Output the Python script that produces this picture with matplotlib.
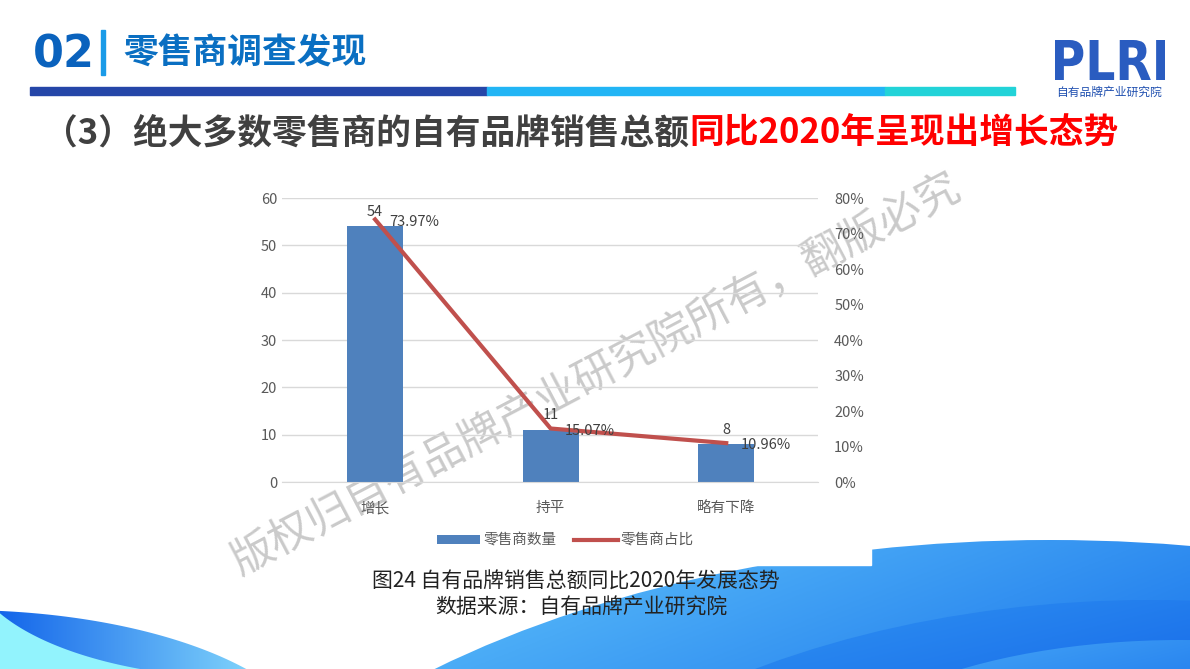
import numpy as np
import matplotlib.pyplot as plt
from matplotlib.patches import Ellipse, Rectangle, Polygon, PathPatch
from matplotlib.colors import LinearSegmentedColormap
from matplotlib.textpath import TextPath
from matplotlib.font_manager import FontProperties
from matplotlib.transforms import Affine2D
from matplotlib.ticker import FuncFormatter
plt.rcParams["font.family"] = ["Noto Sans CJK SC", "DejaVu Sans"]

# 数据
categories = ["增长", "持平", "略有下降"]
counts = [54, 11, 8]
shares = [0.7397, 0.1507, 0.1096]
share_labels = ["73.97%", "15.07%", "10.96%"]

fig = plt.figure(figsize=(11.9, 6.69), dpi=100)

# 背景层（像素坐标）
bg = fig.add_axes([0, 0, 1, 1])
bg.set_xlim(0, 1190)
bg.set_ylim(669, 0)
bg.axis("off")


def grad_fill(patch, c1, c2, extent, z, diag=True):
    patch.set_facecolor("none")
    patch.set_edgecolor("none")
    bg.add_patch(patch)
    n = 200
    gx = np.linspace(0, 1, n)
    gy = np.linspace(0, 1, n)
    arr = (gx[None, :] * 0.7 + gy[:, None] * 0.3) if diag else np.tile(gx, (n, 1))
    cmap = LinearSegmentedColormap.from_list("g", [c1, c2])
    im = bg.imshow(arr, extent=extent, cmap=cmap, aspect="auto", origin="upper", zorder=z)
    im.set_clip_path(patch)


# 底部右侧波浪
grad_fill(Ellipse((1050, 1040), 1836, 1000), "#5fc3fb", "#1d78ec", (430, 1190, 669, 540), 0.5)
grad_fill(Ellipse((1150, 1060), 1500, 920), "#3aa4f6", "#1a6fea", (440, 1190, 669, 590), 0.6)
grad_fill(Ellipse((1180, 800), 760, 320), "#4eb0f8", "#2a86f0", (840, 1190, 669, 630), 0.7)
bg.add_patch(Rectangle((700, 500), 171, 65, color="white", zorder=0.8))

# 底部左侧波浪
xs = np.linspace(0, 252, 80)
yA = 760 - 150 * np.sqrt(np.clip(1 - ((xs + 40) / 360) ** 2, 0, 1))
yC = 560 + 118.5 * np.sqrt(np.clip(1 - ((xs - 250) / 280) ** 2, 0, 1))
cyan_pts = [(0, 700)] + list(zip(xs, yC)) + [(252, 700)]
bg.add_patch(Polygon(cyan_pts, closed=True, color="#92f3fd", zorder=0.5))
cres = Polygon(list(zip(xs, yA)) + list(zip(xs[::-1], yC[::-1])), closed=True)
grad_fill(cres, "#1466ea", "#7fd3fb", (0, 252, 680, 605), 0.6, diag=False)

# 顶部标题
bg.text(33, 55, "02", fontsize=32, fontweight="bold", color="#0a62bd", va="center", family="DejaVu Sans")
bg.add_patch(Rectangle((101, 30), 4, 45, color="#1a9be8"))
bg.text(123, 53, "零售商调查发现", fontsize=25, fontweight="bold", color="#0a6fc2", va="center")
bg.add_patch(Rectangle((30, 87), 457, 8, color="#2546a8"))
bg.add_patch(Rectangle((487, 87), 398, 8, color="#22b5f5"))
bg.add_patch(Rectangle((885, 87), 130, 8, color="#22d3d8"))

tp = TextPath((0, 0), "PLRI", size=1, prop=FontProperties(family="DejaVu Sans", weight="bold"))
ext = tp.get_extents()
tr = Affine2D().translate(-ext.x0, -ext.y0).scale(110 / ext.width, -40 / ext.height).translate(1055, 80)
bg.add_patch(PathPatch(tr.transform_path(tp), facecolor="#2a5cc0", edgecolor="none"))
bg.text(1109, 92, "自有品牌产业研究院", fontsize=8.5, color="#2050b0", ha="center", va="center")

t1 = bg.text(43, 133, "（3）绝大多数零售商的自有品牌销售总额", fontsize=25, fontweight="black",
             color="#404040", va="center")
fig.canvas.draw()
x_end = bg.transData.inverted().transform((t1.get_window_extent().x1, 0))[0]
bg.text(x_end, 133, "同比2020年呈现出增长态势", fontsize=25, fontweight="black",
        color="#ff0000", va="center")

# 图表
ax = fig.add_axes([0.237, 0.2795, 0.45, 0.4245])
x = np.arange(len(categories))
ax.bar(x, counts, width=0.32, color="#4f81bd", zorder=2, label="零售商数量")
ax.set_ylim(0, 60)
ax.set_yticks(range(0, 61, 10))
ax.set_xlim(-0.53, 2.52)
ax.set_xticks(x)
ax.set_xticklabels(categories)
ax.grid(axis="y", color="#d9d9d9", linewidth=1, zorder=0)
for s in ["top", "right", "left"]:
    ax.spines[s].set_visible(False)
ax.spines["bottom"].set_color("#d9d9d9")
ax.tick_params(length=0, labelsize=10.5, labelcolor="#595959")
ax.tick_params(axis="x", pad=14)
ax.patch.set_alpha(0)
for xi, c in zip(x, counts):
    ax.text(xi, c + 1.6, str(c), ha="center", va="bottom", fontsize=10.5, color="#404040")

ax2 = ax.twinx()
ax2.plot(x, shares, color="#c0504d", linewidth=3, zorder=3, label="零售商占比")
ax2.set_ylim(0, 0.8)
ax2.set_yticks(np.arange(0, 0.81, 0.1))
ax2.yaxis.set_major_formatter(FuncFormatter(lambda v, p: f"{v*100:.0f}%"))
for s in ["top", "right", "left", "bottom"]:
    ax2.spines[s].set_visible(False)
ax2.tick_params(length=0, labelsize=10.5, labelcolor="#595959", pad=12)
for xi, s, lab in zip(x, shares, share_labels):
    ax2.text(xi + 0.08, s - 0.006, lab, ha="left", va="center", fontsize=10.5, color="#404040")

h1, l1 = ax.get_legend_handles_labels()
h2, l2 = ax2.get_legend_handles_labels()
fig.legend(h1 + h2, l1 + l2, loc="center", bbox_to_anchor=(0.475, 0.192), ncol=2,
           frameon=False, fontsize=10.5, labelcolor="#595959", handlelength=3.0,
           handleheight=0.6, columnspacing=1.2, handletextpad=0.2)

# 水印
bg.text(597, 375, "版权归自有品牌产业研究院所有，翻版必究", fontsize=31, color="#bdbdbd",
        fontweight="light", alpha=0.8, rotation=27.7, ha="center", va="center", zorder=5)

# 图注
bg.text(576, 582, "图24 自有品牌销售总额同比2020年发展态势", fontsize=15, color="#222222",
        ha="center", va="center", zorder=6)
bg.text(581, 608, "数据来源：自有品牌产业研究院", fontsize=15, color="#222222",
        ha="center", va="center", zorder=6)

fig.savefig("out.png", dpi=100)
